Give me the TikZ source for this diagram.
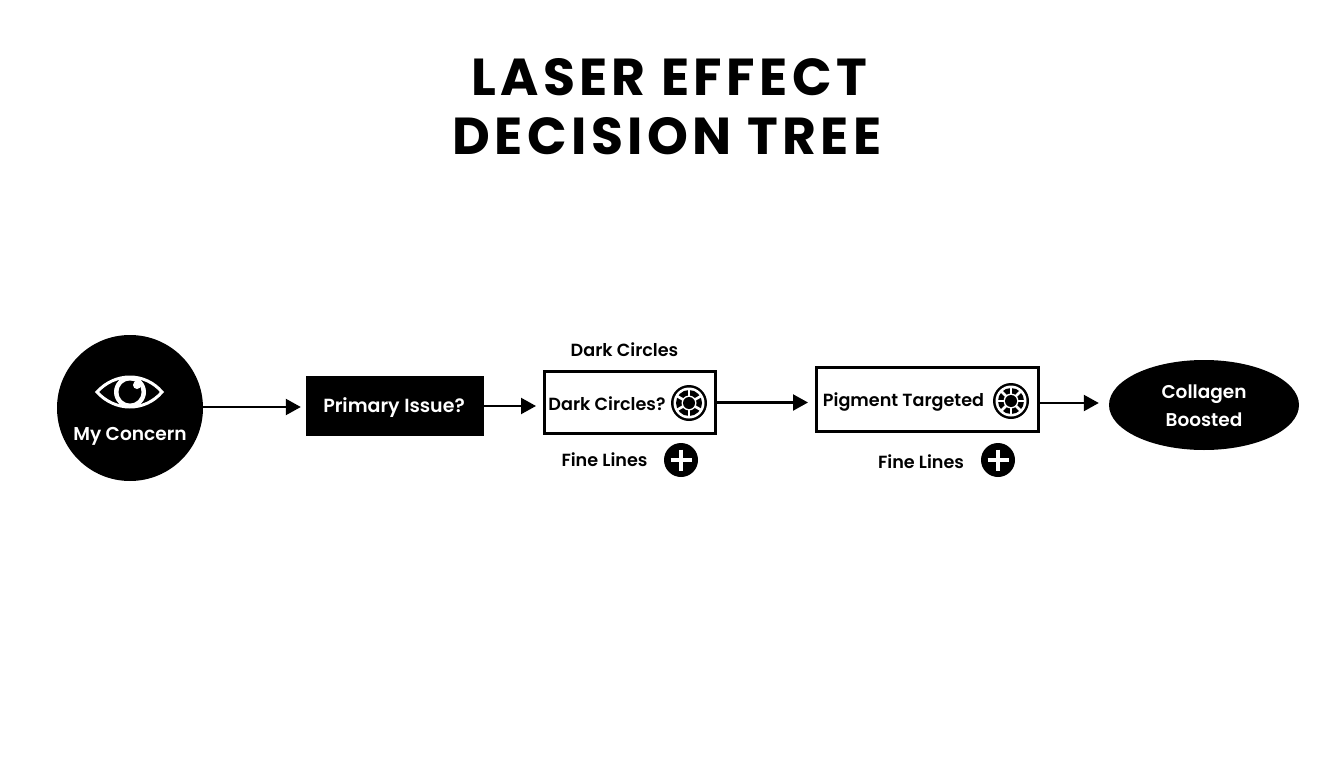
\documentclass[tikz,border=0pt]{standalone}
\usepackage{fontspec}
\setmainfont{Poppins}
\newfontfamily\boldf{Poppins SemiBold}
\newfontfamily\titlef{Poppins Bold}[LetterSpace=8.5]
\usetikzlibrary{arrows.meta,shapes.geometric}
\tikzset{
  x=1pt,y=-1pt,
  titletext/.style={inner sep=0,font=\fontsize{52}{52}\selectfont\titlef,text=black},
  lighttext/.style={inner sep=0,font=\fontsize{18.6}{18.6}\selectfont\boldf,text=white},
  pitext/.style={inner sep=0,font=\fontsize{19}{19}\selectfont\boldf,text=white},
  collagentext/.style={inner sep=0,font=\fontsize{18.5}{18.5}\selectfont\boldf,text=white},
  darktext/.style={inner sep=0,font=\fontsize{17.6}{17.6}\selectfont\boldf,text=black},
  blackcircle/.style={circle,fill=black,draw=none,inner sep=0,minimum size=146pt},
  blackbox/.style={fill=black,draw=none,inner sep=0,minimum width=178pt,minimum height=60pt},
  whitebox/.style={fill=white,draw=black,line width=3pt,inner sep=0},
  blob/.style={ellipse,fill=black,draw=none,inner sep=0,minimum width=190pt,minimum height=90pt},
  conn/.style={line width=2.2pt,draw=black,-{Triangle[length=15pt,width=16pt]},shorten >=#1},
  conn/.default=5pt
}
\newcommand{\wheelicon}[2]{%
  \begin{scope}[shift={(#1)}]
    \fill[black] (0,0) circle (18);
    \fill[white] (0,0) circle (15.5);
    \fill[black] (0,0) circle (13);
    \foreach \a in {#2} \draw[white,line width=2.6pt] (0,0) -- (\a:14);
    \fill[white] (0,0) circle (7.5);
    \fill[black] (0,0) circle (6);
  \end{scope}}
\newcommand{\plusicon}[1]{%
  \begin{scope}[shift={(#1)}]
    \fill[black] (0,0) circle (17);
    \draw[white,line width=4pt] (-10.5,0) -- (10.5,0) (0,-10.5) -- (0,10.5);
  \end{scope}}
\begin{document}
\begin{tikzpicture}
\useasboundingbox (0,0) rectangle (1344,768);
\fill[white] (0,0) rectangle (1344,768);
\node[titletext] (t1) at (669,77) {LASER EFFECT};
\node[titletext] (t2) at (667,136) {DECISION TREE};
\node[blackcircle] (concern) at (130,408) {};
\node[blackbox] (primary) at (395,406) {};
\node[whitebox,minimum width=171pt,minimum height=62pt] (dark) at (630,402.5) {};
\node[whitebox,minimum width=222pt,minimum height=64pt] (pigment) at (927.5,399.5) {};
\node[blob] (boosted) at (1204,405) {};
% eye
\draw[white,line width=3pt,line join=miter] (97,392) .. controls (115,372) and (145,372) .. (162,392) .. controls (145,412) and (115,412) .. (97,392) -- cycle;
\fill[white] (130,392) circle (16);
\fill[black] (130,392) circle (11.5);
\fill[white] (137,385) circle (4);
\node[lighttext] (myc) at (130,436) {My Concern};
\node[pitext] (pi) at (394,408) {Primary Issue?};
\node[collagentext] (col) at (1204,394.5) {Collagen};
\node[collagentext] (boo) at (1204,420) {Boosted};
\node[darktext] (dc0) at (624.5,350) {Dark Circles};
\node[darktext] (dc1) at (607,404) {Dark Circles?};
\node[darktext] (pt) at (903.5,402) {Pigment Targeted};
\node[darktext] (fl1) at (604.5,460) {Fine Lines};
\node[darktext] (fl2) at (921,462) {Fine Lines};
\wheelicon{689,403}{30,90,150,210,270,330}
\wheelicon{1011,401}{0,45,90,135,180,225,270,315}
\plusicon{681,460}
\plusicon{998,460}
\draw[conn] (concern.east |- {0,407}) -- (primary.west |- {0,407});
\draw[conn=7pt] (primary.east) -- (dark.west |- primary.east);
\draw[conn=7pt] (dark.east) -- (pigment.west |- dark.east);
\draw[conn=10pt] (pigment.east |- {0,403}) -- (boosted.west |- {0,403});
\end{tikzpicture}
\end{document}
